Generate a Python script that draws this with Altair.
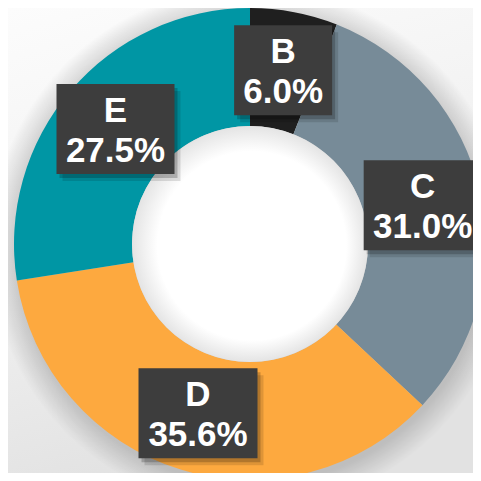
import altair as alt
import pandas as pd

categories = ["B", "C", "D", "E"]
values = [6.0, 31.0, 35.6, 27.5]
pct_labels = ["6.0%", "31.0%", "35.6%", "27.5%"]
colors = ["#1f1f1f", "#778b98", "#fda93f", "#0096a4"]
box_paths = [
    "M-0.98,-0.9L0.98,-0.9L0.98,0.9L-0.98,0.9Z",
    "M-1.18,-0.9L1.18,-0.9L1.18,0.9L-1.18,0.9Z",
    "M-1.19,-0.9L1.19,-0.9L1.19,0.9L-1.19,0.9Z",
    "M-1.18,-0.9L1.18,-0.9L1.18,0.9L-1.18,0.9Z",
]

df = pd.DataFrame({
    "cat": categories,
    "value": values,
    "order": list(range(len(categories))),
    "label": [c + "\n" + p for c, p in zip(categories, pct_labels)],
})

W = 465
H = 465
CX = 242
CY = 236
R_OUT = 236
R_IN = 118
R_LAB = 177

base = alt.Chart(df)

bg = alt.Chart(pd.DataFrame({"a": [0]})).mark_rect(
    color=alt.LinearGradient(
        gradient="linear",
        stops=[alt.GradientStop(color="#fcfcfc", offset=0),
               alt.GradientStop(color="#f2f2f2", offset=0.5),
               alt.GradientStop(color="#e2e2e2", offset=1)],
        x1=0, x2=0.3, y1=0, y2=1,
    )
).encode(x=alt.value(0), x2=alt.value(W), y=alt.value(0), y2=alt.value(H))

shadow = alt.Chart(pd.DataFrame({"a": [0]})).mark_arc(
    theta=0, theta2=6.2832, outerRadius=R_OUT + 26, innerRadius=0,
    fill=alt.RadialGradient(
        gradient="radial",
        stops=[alt.GradientStop(color="rgba(0,0,0,0.16)", offset=0),
               alt.GradientStop(color="rgba(0,0,0,0.16)", offset=0.9),
               alt.GradientStop(color="rgba(0,0,0,0.0)", offset=1)],
        x1=0.5, y1=0.5, r1=0, x2=0.5, y2=0.5, r2=0.5,
    ),
).encode(x=alt.value(CX + 1), y=alt.value(CY + 4))

donut = base.mark_arc(outerRadius=R_OUT, innerRadius=R_IN, stroke=None).encode(
    theta=alt.Theta("value:Q", stack=True),
    color=alt.Color("cat:N", scale=alt.Scale(domain=categories, range=colors), legend=None),
    order=alt.Order("order:Q"),
    x=alt.value(CX), y=alt.value(CY),
)

hole = alt.Chart(pd.DataFrame({"a": [0]})).mark_arc(
    theta=0, theta2=6.2832, outerRadius=R_IN, innerRadius=0,
    fill=alt.RadialGradient(
        gradient="radial",
        stops=[alt.GradientStop(color="#ffffff", offset=0),
               alt.GradientStop(color="#ffffff", offset=0.8),
               alt.GradientStop(color="#e4e4e4", offset=1)],
        x1=0.54, y1=0.54, r1=0, x2=0.5, y2=0.5, r2=0.5,
    ),
).encode(x=alt.value(CX), y=alt.value(CY))

pos = base.transform_window(
    cum="sum(value)", sort=[alt.SortField("order")], frame=[None, 0]
).transform_joinaggregate(
    total="sum(value)"
).transform_calculate(
    mid="2*PI*(datum.cum - datum.value/2)/datum.total"
).transform_calculate(
    px=f"{R_LAB}*sin(datum.mid)", py=f"{R_LAB}*cos(datum.mid)"
)

xs = alt.X("px:Q", scale=alt.Scale(domain=[-CX, W - CX], nice=False, zero=False), axis=None)
ys = alt.Y("py:Q", scale=alt.Scale(domain=[-(H - CY), CY], nice=False, zero=False), axis=None)
shp = alt.Shape("cat:N", scale=alt.Scale(domain=categories, range=box_paths), legend=None)

box_shadow1 = pos.mark_point(filled=True, size=10000, fill="#000000", opacity=0.12,
                             strokeWidth=0, xOffset=6, yOffset=7).encode(x=xs, y=ys, shape=shp)
box_shadow2 = pos.mark_point(filled=True, size=10000, fill="#000000", opacity=0.2,
                             strokeWidth=0, xOffset=3, yOffset=4).encode(x=xs, y=ys, shape=shp)
boxes = pos.mark_point(filled=True, size=10000, fill="#3d3d3d", opacity=1,
                       strokeWidth=0).encode(x=xs, y=ys, shape=shp)

labels = base.mark_text(
    radius=R_LAB, font="Liberation Sans", fontWeight="bold", fontSize=35,
    lineHeight=40, lineBreak="\n", color="white", align="center", baseline="middle", dy=-18,
).encode(
    theta=alt.Theta("value:Q", stack=True),
    order=alt.Order("order:Q"),
    text="label:N",
    x=alt.value(CX), y=alt.value(CY),
)

chart = alt.layer(bg, shadow, donut, hole, box_shadow1, box_shadow2, boxes, labels).properties(
    width=W, height=H, padding=0, autosize="none"
).configure_view(stroke=None)

chart.save("out.html", embed_options={"renderer": "svg", "actions": False})
